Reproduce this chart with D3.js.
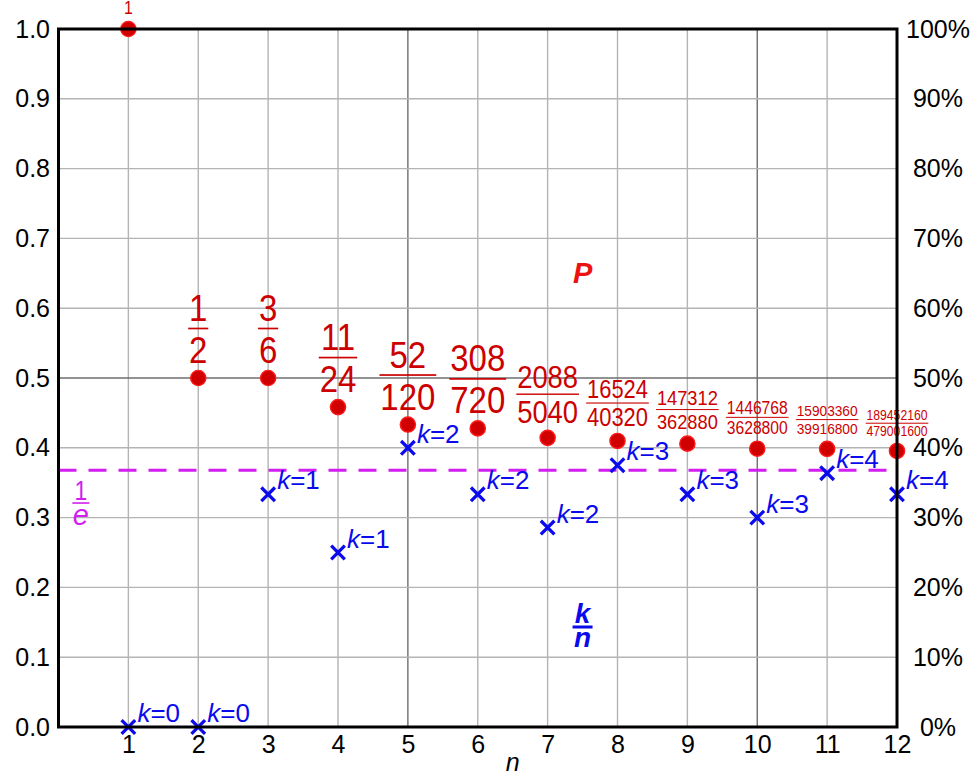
<!DOCTYPE html>
<html>
<head>
<meta charset="utf-8">
<script src="https://cdn.jsdelivr.net/npm/d3@7"></script>
<style>
  body { margin: 0; background: #fff; }
  svg { display: block; }
</style>
</head>
<body>
<svg id="chart" width="976" height="772"></svg>
<script>
// ---------- data ----------
const nValues   = [1, 2, 3, 4, 5, 6, 7, 8, 9, 10, 11, 12];
const pNum      = [1, 1, 3, 11, 52, 308, 2088, 16524, 147312, 1446768, 15903360, 189452160];
const pDen      = [1, 2, 6, 24, 120, 720, 5040, 40320, 362880, 3628800, 39916800, 479001600];
const kValues   = [0, 0, 1, 1, 2, 2, 2, 3, 3, 3, 4, 4];
const yTicks    = [0, 0.1, 0.2, 0.3, 0.4, 0.5, 0.6, 0.7, 0.8, 0.9, 1.0];
const yTickLabels   = ["0.0","0.1","0.2","0.3","0.4","0.5","0.6","0.7","0.8","0.9","1.0"];
const pctTickLabels = ["0%","10%","20%","30%","40%","50%","60%","70%","80%","90%","100%"];
const xDomain = [0, 12];
const yDomain = [0, 1];
const invE = 1 / Math.E;

// ---------- setup ----------
const svg = d3.select("#chart");
const x = d3.scaleLinear().domain(xDomain).range([58.5, 897]);
const y = d3.scaleLinear().domain(yDomain).range([727, 29]);
const FONT = "'Liberation Sans', Arial, Helvetica, sans-serif";

const red = "#cc0000", blue = "#0a0aec", mag = "#d21ef0";

// ---------- grid ----------
const grid = svg.append("g");
grid.selectAll("line.v").data(d3.range(1, 12)).join("line")
  .attr("x1", d => x(d)).attr("x2", d => x(d))
  .attr("y1", y(0)).attr("y2", y(1))
  .attr("stroke", d => d % 5 === 0 ? "#6e6e6e" : "#b4b4b4")
  .attr("stroke-width", 1.4);
grid.selectAll("line.h").data(yTicks.slice(1, -1)).join("line")
  .attr("y1", d => y(d)).attr("y2", d => y(d))
  .attr("x1", x(0)).attr("x2", x(12))
  .attr("stroke", d => Math.abs(d - 0.5) < 1e-9 ? "#6e6e6e" : "#b4b4b4")
  .attr("stroke-width", 1.4);

// ---------- axes (labels) ----------
const fmtY = d => yTickLabels[yTicks.findIndex(t => Math.abs(t - d) < 1e-9)];
const fmtP = d => pctTickLabels[yTicks.findIndex(t => Math.abs(t - d) < 1e-9)];

const axL = svg.append("g").attr("transform", `translate(${x(0)},0)`)
  .call(d3.axisLeft(y).tickValues(yTicks).tickFormat(fmtY).tickSize(0).tickPadding(8.5));
const axR = svg.append("g").attr("transform", `translate(${x(12)},0)`)
  .call(d3.axisRight(y).tickValues(yTicks).tickFormat(fmtP).tickSize(0).tickPadding(41));
axR.selectAll("text").attr("text-anchor", "middle");
const axB = svg.append("g").attr("transform", `translate(0,${y(0)})`)
  .call(d3.axisBottom(x).tickValues(nValues).tickFormat(d3.format("d")).tickSize(0).tickPadding(8));
[axL, axR, axB].forEach(a => {
  a.select(".domain").remove();
  a.selectAll("text").attr("font-family", FONT).attr("font-size", 25).attr("fill", "#000");
});

// n label
svg.append("text").attr("x", x(6.5)).attr("y", 771)
  .attr("text-anchor", "middle").attr("font-family", FONT)
  .attr("font-style", "italic").attr("font-size", 25).text("n");

// ---------- 1/e line ----------
svg.append("line")
  .attr("x1", x(0)).attr("x2", x(12)).attr("y1", y(invE)).attr("y2", y(invE))
  .attr("stroke", mag).attr("stroke-width", 3).attr("stroke-dasharray", "18,12");
const eg = svg.append("g").attr("transform", `translate(${x(0.32)},${y(invE) + 32})`);
eg.append("text").attr("text-anchor", "middle").attr("y", -2.5).attr("font-family", FONT)
  .attr("font-size", 27).attr("fill", mag).attr("transform", "scale(0.85,1)").text("1");
eg.append("rect").attr("x", -8.5).attr("y", 0).attr("width", 17).attr("height", 1.6).attr("fill", mag);
eg.append("text").attr("text-anchor", "middle").attr("y", 23).attr("font-family", FONT)
  .attr("font-style", "italic").attr("font-size", 29).attr("fill", mag).text("e");

// ---------- k/n crosses ----------
const kn = nValues.map((n, i) => ({ n, k: kValues[i], v: kValues[i] / n }));
const cs = 6.8;
const crosses = svg.append("g").selectAll("g").data(kn).join("g")
  .attr("transform", d => `translate(${x(d.n)},${y(d.v)})`);
crosses.append("path")
  .attr("d", `M${-cs},${-cs}L${cs},${cs}M${-cs},${cs}L${cs},${-cs}`)
  .attr("stroke", blue).attr("stroke-width", 3.3).attr("fill", "none");
const kt = crosses.append("text").attr("x", 9).attr("y", -5)
  .attr("font-family", FONT).attr("font-size", 26).attr("fill", blue);
kt.append("tspan").attr("font-style", "italic").text("k");
kt.append("tspan").text(d => "=" + d.k);

// ---------- P points ----------
const pd = nValues.map((n, i) => ({ n, num: pNum[i], den: pDen[i], v: pNum[i] / pDen[i] }));
svg.append("g").selectAll("circle").data(pd).join("circle")
  .attr("cx", d => x(d.n)).attr("cy", d => y(d.v)).attr("r", 7.6)
  .attr("fill", "#d00000").attr("stroke", "#ff1a1a").attr("stroke-width", 1.4);

// fraction labels
pd.forEach(d => {
  const whole = d.den === 1;
  const f = whole ? 18 : Math.min(37.5, 124.5 / String(d.den).length);
  const g = svg.append("g")
    .attr("transform", `translate(${x(d.n)},${y(d.v) - 15}) scale(0.88,1)`);
  if (whole) {
    g.append("text").attr("text-anchor", "middle").attr("font-family", FONT)
      .attr("font-size", f).attr("fill", red).text(d.num);
    return;
  }
  const den = g.append("text").attr("text-anchor", "middle").attr("font-family", FONT)
    .attr("font-size", f).attr("fill", red).text(d.den);
  const barY = -0.92 * f;
  g.append("text").attr("text-anchor", "middle").attr("font-family", FONT)
    .attr("font-size", f).attr("fill", red).attr("y", barY - 0.2 * f).text(d.num);
  const w = den.node().getComputedTextLength() + 2;
  const th = Math.max(1, 0.045 * f);
  g.append("rect").attr("x", -w / 2).attr("y", barY - th / 2)
    .attr("width", w).attr("height", th).attr("fill", red);
});

// ---------- series labels ----------
svg.append("text").attr("x", x(7.5)).attr("y", 283).attr("text-anchor", "middle")
  .attr("font-family", FONT).attr("font-weight", "bold").attr("font-style", "italic")
  .attr("font-size", 29).attr("fill", "#ee1111").text("P");
const kl = svg.append("g").attr("transform", `translate(${x(7.5)},627)`);
kl.append("text").attr("text-anchor", "middle").attr("y", -4).attr("font-family", FONT)
  .attr("font-weight", "bold").attr("font-style", "italic").attr("font-size", 28)
  .attr("fill", blue).text("k");
kl.append("rect").attr("x", -10).attr("y", -1.5).attr("width", 20).attr("height", 3).attr("fill", blue);
kl.append("text").attr("text-anchor", "middle").attr("y", 20).attr("font-family", FONT)
  .attr("font-weight", "bold").attr("font-style", "italic").attr("font-size", 28)
  .attr("fill", blue).text("n");

// ---------- frame ----------
svg.append("rect").attr("x", x(0)).attr("y", y(1))
  .attr("width", x(12) - x(0)).attr("height", y(0) - y(1))
  .attr("fill", "none").attr("stroke", "#000").attr("stroke-width", 3);

// bring points above frame
svg.selectAll("circle").raise();
</script>
</body>
</html>
